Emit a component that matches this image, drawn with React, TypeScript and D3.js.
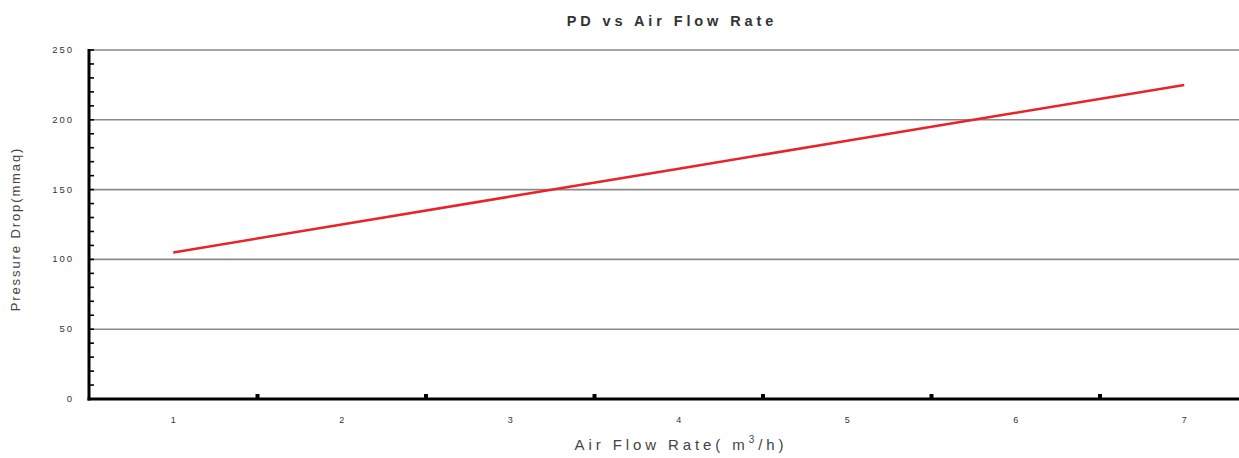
import React, { useEffect, useRef } from 'react';
import * as d3 from 'd3';

// Air flow rate (m3/h) and pressure drop (mmaq)
const airFlow = [1, 2, 3, 4, 5, 6, 7];
const pressureDrop = [105, 125, 145, 165, 185, 205, 225];
const xTickLabels = [1, 2, 3, 4, 5, 6, 7];
const xMajorTicks = [1.5, 2.5, 3.5, 4.5, 5.5, 6.5];
const yTickLabels = [0, 50, 100, 150, 200, 250];
const yMinorTicks = d3.range(0, 251, 10);

const W = 1239;
const H = 458;

export default function App() {
  const svgRef = useRef<SVGSVGElement>(null);

  useEffect(() => {
    const svg = d3.select(svgRef.current);
    svg.selectAll('*').remove();

    const margin = { top: 50, right: 0, bottom: 59, left: 89 };
    const x = d3.scaleLinear().domain([0.5, 7.325]).range([margin.left, W - margin.right]);
    const y = d3.scaleLinear().domain([0, 250]).range([H - margin.bottom, margin.top]);
    const font = 'Liberation Sans, Arial, sans-serif';

    // grid
    svg.append('g')
      .selectAll('line')
      .data(yTickLabels.filter(d => d > 0))
      .enter().append('line')
      .attr('x1', margin.left).attr('x2', W)
      .attr('y1', d => y(d)).attr('y2', d => y(d))
      .attr('stroke', '#8a8a8a').attr('stroke-width', 1.6);

    // y minor ticks
    svg.append('g')
      .selectAll('line')
      .data(yMinorTicks)
      .enter().append('line')
      .attr('x1', margin.left).attr('x2', margin.left + 5)
      .attr('y1', d => y(d)).attr('y2', d => y(d))
      .attr('stroke', '#000').attr('stroke-width', 1.6);

    // y labels
    svg.append('g')
      .selectAll('text')
      .data(yTickLabels)
      .enter().append('text')
      .attr('x', 74).attr('y', d => y(d) + 3)
      .attr('text-anchor', 'end')
      .attr('font-family', font).attr('font-size', 9.5)
      .attr('letter-spacing', 2)
      .attr('fill', '#333')
      .text(d => d);

    // x major ticks (small blocks above the axis)
    svg.append('g')
      .selectAll('rect')
      .data(xMajorTicks)
      .enter().append('rect')
      .attr('x', d => x(d) - 2).attr('y', y(0) - 5)
      .attr('width', 4).attr('height', 5)
      .attr('fill', '#000');

    // x labels
    svg.append('g')
      .selectAll('text')
      .data(xTickLabels)
      .enter().append('text')
      .attr('x', d => x(d)).attr('y', y(0) + 24)
      .attr('text-anchor', 'middle')
      .attr('font-family', font).attr('font-size', 9)
      .attr('fill', '#333')
      .text(d => d);

    // axes lines
    svg.append('line')
      .attr('x1', margin.left).attr('x2', margin.left)
      .attr('y1', margin.top - 1).attr('y2', y(0) + 1.5)
      .attr('stroke', '#000').attr('stroke-width', 3);
    svg.append('line')
      .attr('x1', margin.left - 1.5).attr('x2', W)
      .attr('y1', y(0)).attr('y2', y(0))
      .attr('stroke', '#000').attr('stroke-width', 3);

    // series
    const line = d3.line<number>()
      .x((_, i) => x(airFlow[i]))
      .y(d => y(d));
    svg.append('path')
      .datum(pressureDrop)
      .attr('fill', 'none')
      .attr('stroke', '#e8232a')
      .attr('stroke-width', 2.5)
      .attr('d', line);

    // title
    svg.append('text')
      .attr('x', 672).attr('y', 26)
      .attr('text-anchor', 'middle')
      .attr('font-family', font).attr('font-size', 14.5).attr('font-weight', 'bold')
      .attr('letter-spacing', 3.9)
      .attr('fill', '#333')
      .text('PD vs Air Flow Rate');

    // x axis title
    const xt = svg.append('text')
      .attr('x', 681).attr('y', 450)
      .attr('text-anchor', 'middle')
      .attr('font-family', font).attr('font-size', 15)
      .attr('letter-spacing', 3.9)
      .attr('fill', '#444');
    xt.append('tspan').text('Air Flow Rate( m');
    xt.append('tspan').attr('font-size', 10).attr('dy', -7).text('3');
    xt.append('tspan').attr('dy', 7).text('/h)');

    // y axis title
    svg.append('text')
      .attr('transform', 'translate(20,229) rotate(-90)')
      .attr('text-anchor', 'middle')
      .attr('font-family', font).attr('font-size', 13)
      .attr('letter-spacing', 1.9)
      .attr('fill', '#444')
      .text('Pressure Drop(mmaq)');
  }, []);

  return (
    <svg
      ref={svgRef}
      width={W}
      height={H}
      style={{ position: 'absolute', left: 0, top: 0, background: '#fff' }}
    />
  );
}
